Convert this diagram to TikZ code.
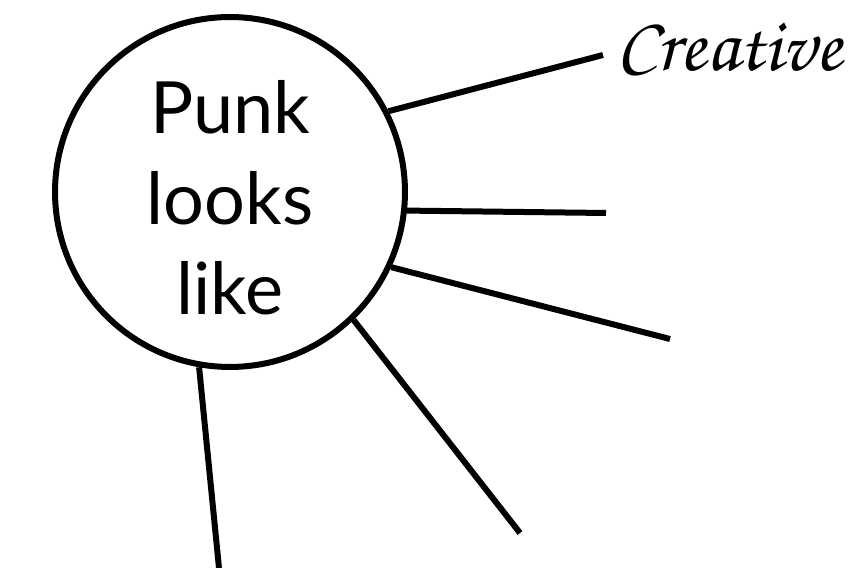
\documentclass[tikz,border=0pt]{standalone}
\usepackage[T1]{fontenc}
\usepackage{fontspec}
\setsansfont{Lato}
\usetikzlibrary{
    calc,
    positioning
}
\tikzset{
    % --- Central topic (big circle) ---
    bubble/.style = {
        circle, draw, line width=0.12cm,
        minimum size=7cm, inner sep=0pt
    },
    % --- Text inside the central topic ---
    bubble text/.style = {
        font=\sffamily\fontsize{41}{51.5}\selectfont,
        align=center, inner sep=0pt
    },
    % --- Spoke from the topic to an answer ---
    spoke/.style = {
        line width=0.12cm
    },
    % --- Handwritten answer at the end of a spoke ---
    answer/.style = {
        font=\fontencoding{T1}\fontfamily{pzc}\fontsize{44}{48}\selectfont,
        inner sep=0pt, anchor=base west
    }
}

\begin{document}
\begin{tikzpicture}[x=0.02cm, y=0.02cm]

\useasboundingbox (0,0) rectangle (867,568);

% ---------------------------------------------------------
% Central topic
% ---------------------------------------------------------
\node[bubble] (punk) at (230,376) {};
\node[bubble text] (punktext) at ($(punk.center)+(0,-6)$) {Punk\\looks\\like};

% ---------------------------------------------------------
% Free ends of the spokes
% ---------------------------------------------------------
\coordinate (creativeEnd) at (603,513);
\coordinate (spokeTwoEnd) at (606,355);
\coordinate (spokeThreeEnd) at (670,229);
\coordinate (spokeFourEnd) at (520,35);
\coordinate (spokeFiveEnd) at (219,0);

% ---------------------------------------------------------
% Spokes
% ---------------------------------------------------------
\draw[spoke] (punk.27.6) -- (creativeEnd);
\draw[spoke] (punk.-6.7) -- (spokeTwoEnd);
\draw[spoke] (punk.-25.8) -- (spokeThreeEnd);
\draw[spoke] (punk.-46.1) -- (spokeFourEnd);
\draw[spoke] (punk.-100.6) -- (spokeFiveEnd);

% Answer written at the first spoke
\node[answer] (creative) at (616,497) {Creative};

\end{tikzpicture}
\end{document}
